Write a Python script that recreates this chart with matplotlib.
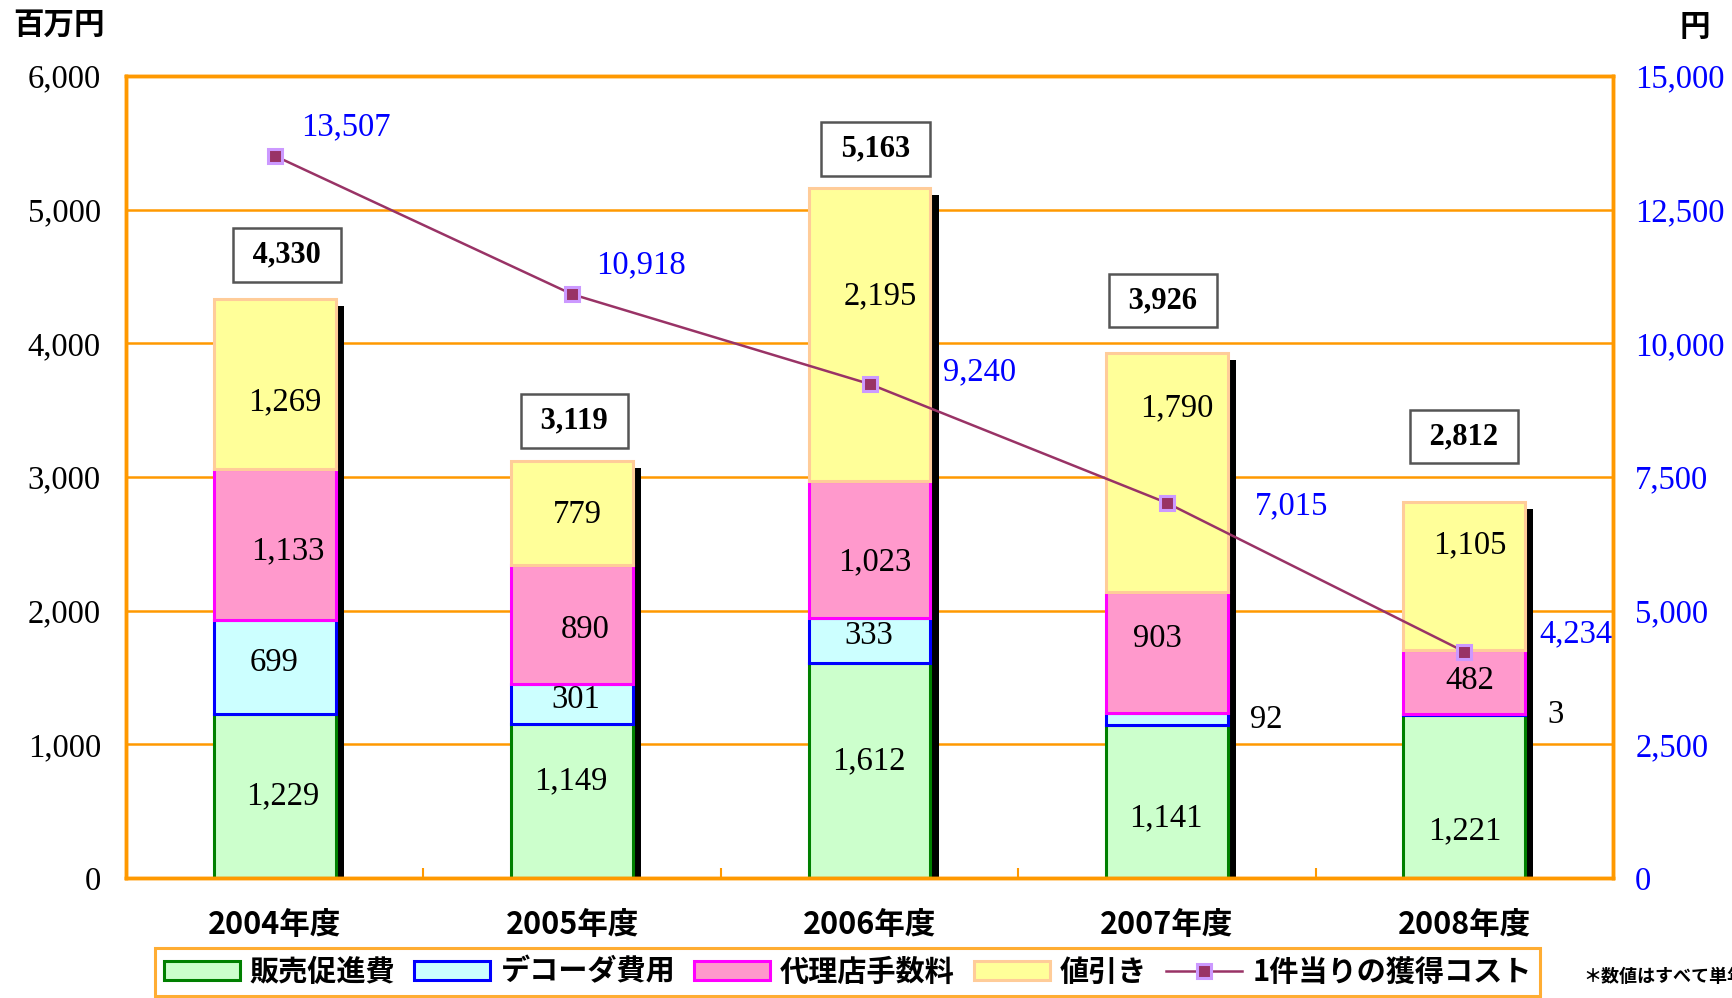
import matplotlib
matplotlib.use("Agg")
import matplotlib.pyplot as plt
import matplotlib.patheffects as pe
from matplotlib.patches import Patch
from matplotlib.lines import Line2D
import numpy as np

# ---- data ----
years = ["2004年度", "2005年度", "2006年度", "2007年度", "2008年度"]
promo = [1229, 1149, 1612, 1141, 1221]          # 販売促進費
decoder = [699, 301, 333, 92, 3]               # デコーダ費用
agency = [1133, 890, 1023, 903, 482]           # 代理店手数料
discount = [1269, 779, 2195, 1790, 1105]       # 値引き
totals = [4330, 3119, 5163, 3926, 2812]
cost_per = [13507, 10918, 9240, 7015, 4234]    # 1件当りの獲得コスト

series_names = ["販売促進費", "デコーダ費用", "代理店手数料", "値引き"]
cost_name = "1件当りの獲得コスト"

# ---- styles ----
faces = ["#CCFFCC", "#CCFFFF", "#FF99CC", "#FFFF99"]
edges = ["#008000", "#0000FF", "#FF00FF", "#FFCC99"]
ORANGE = "#FF9900"
LINEC = "#993366"
SERIF = "Liberation Serif"
GOTH = "Noto Sans CJK JP"
NUMSIZE = 23.5

# label nudges (layout only): (dx in px, dy in data units) per series per bar
seg_dx = [[8, -1, -1, -1, 1], [-1, 4, -1, 0, 0], [13, 13, 5, -10, 6], [10, 5, 11, 10, 6]]
seg_dy = [[0, 150, 66, -121, -259], [30, 35, 36, 0, 0], [-50, -40, -96, 104, 9], [-135, -13, 289, 486, 233]]
tot_dy = [330, 300, 290, 393, 491]
tot_dx = [12, 2, 6, -4, 0]
cost_off = [(71, 29), (69, 29), (110, 12), (125, -3), (112, 18)]

W, H = 1733, 998
fig = plt.figure(figsize=(W / 100, H / 100), dpi=100)
ax = fig.add_axes([126 / W, 1 - 878 / H, (1613 - 126) / W, (878 - 76) / H])

x = np.arange(len(years))
bw = 0.41
px_per_unit = (1613 - 126) / 5.0

# shadow
ax.bar(x, totals, width=bw, color="k", lw=0, zorder=1.5,
       path_effects=[pe.SimplePatchShadow(offset=(5.8, -5.0), shadow_rgbFace="k", alpha=1.0)])

bottom = np.zeros(len(years))
all_series = [promo, decoder, agency, discount]
for i, vals in enumerate(all_series):
    vals = np.array(vals, dtype=float)
    ax.bar(x, vals, width=bw, bottom=bottom, facecolor=faces[i], edgecolor=edges[i],
           linewidth=2.2, zorder=2)
    for j, v in enumerate(vals):
        lab = f"{int(v):,}"
        if v < 150:
            ax.text(x[j] + bw / 2 + 22 / px_per_unit, bottom[j] + v / 2, lab,
                    ha="left", va="center", fontsize=NUMSIZE, family=SERIF, zorder=5)
        else:
            ax.text(x[j] + seg_dx[i][j] / px_per_unit, bottom[j] + v / 2 + seg_dy[i][j], lab,
                    ha="center", va="center", fontsize=NUMSIZE, family=SERIF, zorder=5)
    bottom += vals

for j, t in enumerate(totals):
    ax.text(x[j] + tot_dx[j] / px_per_unit, t + tot_dy[j], f" {t:,} ", ha="center", va="center",
            fontsize=22, family=SERIF, fontweight="bold", zorder=6,
            bbox=dict(boxstyle="square,pad=0.4", fc="white", ec="#555555", lw=1.8))

ax.set_xlim(-0.5, 4.5)
ax.set_ylim(0, 6000)
ax.set_yticks(np.arange(0, 6001, 1000))
ax.set_yticklabels([f"{v:,}" for v in range(0, 6001, 1000)], family=SERIF, fontsize=NUMSIZE)
ax.set_xticks(x)
ax.set_xticklabels(years, family=GOTH, fontweight="bold", fontsize=22)
ax.set_xticks(np.arange(0.5, 4.5, 1.0), minor=True)
ax.tick_params(axis="x", which="major", length=0, pad=22)
ax.tick_params(axis="x", which="minor", length=7, width=1.5, color=ORANGE, direction="in")
ax.tick_params(axis="y", length=0, pad=18)
ax.yaxis.grid(True, color=ORANGE, lw=1.8)
ax.set_axisbelow(True)
for s in ax.spines.values():
    s.set_color(ORANGE)
    s.set_linewidth(2.5)
    s.set_zorder(4)

ax2 = ax.twinx()
ax2.set_ylim(0, 15000)
ax2.set_yticks(np.arange(0, 15001, 2500))
ax2.set_yticklabels([f"{v:,}" for v in range(0, 15001, 2500)], family=SERIF, fontsize=NUMSIZE, color="#0000FF")
ax2.tick_params(axis="y", length=0, pad=16)
for s in ax2.spines.values():
    s.set_color(ORANGE)
    s.set_linewidth(2.5)
ax2.plot(x, cost_per, color=LINEC, lw=1.8, marker="s", markersize=10,
         markerfacecolor=LINEC, markeredgecolor="#CC99FF", markeredgewidth=2.2, zorder=5)
for j, c in enumerate(cost_per):
    dx, dy = cost_off[j]
    ax2.annotate(f"{c:,}", (x[j], c), xytext=(dx * 0.72, dy * 0.72), textcoords="offset points",
                 ha="center", va="center", fontsize=NUMSIZE, family=SERIF, color="#0000FF")

fig.text(13 / W, 1 - 25 / H, "百万円", family=GOTH, fontweight="bold", fontsize=22, ha="left", va="center")
fig.text(1680 / W, 1 - 27 / H, "円", family=GOTH, fontweight="bold", fontsize=22, ha="left", va="center")

handles = [Patch(facecolor=faces[i], edgecolor=edges[i], linewidth=2.2) for i in range(4)]
handles.append(Line2D([0], [0], color=LINEC, lw=1.8, marker="s", markersize=10,
                      markerfacecolor=LINEC, markeredgecolor="#CC99FF", markeredgewidth=2.2))
leg = fig.legend(handles, series_names + [cost_name], loc="upper left",
                 bbox_to_anchor=(155 / W, 1 - 948 / H), ncol=5, frameon=True, fancybox=False,
                 prop=dict(family=GOTH, weight="bold", size=21), handlelength=2.6,
                 handleheight=0.65, handletextpad=0.35, columnspacing=0.65, borderpad=0.3,
                 borderaxespad=0)
leg.get_frame().set_edgecolor(ORANGE)
leg.get_frame().set_linewidth(2.2)

fig.text(1583 / W, 1 - 976 / H, "＊数値はすべて単年度の数値", family=GOTH, fontweight="bold",
         fontsize=13, ha="left", va="center")

fig.savefig("out.png", dpi=100)
